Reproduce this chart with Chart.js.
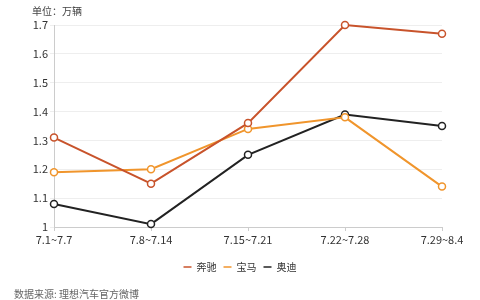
<!DOCTYPE html>
<html><head><meta charset="utf-8">
<script src="https://cdn.jsdelivr.net/npm/chart.js@4/dist/chart.umd.min.js"></script>
<style>html,body{margin:0;padding:0;background:#fff}#wrap{width:480px;height:300px}</style>
</head><body><div id="wrap"><canvas id="c" width="480" height="300"></canvas></div>
<script>
const categories = ['7.1~7.7','7.8~7.14','7.15~7.21','7.22~7.28','7.29~8.4'];
const benz = [1.31, 1.15, 1.36, 1.70, 1.67];
const bmw  = [1.19, 1.20, 1.34, 1.38, 1.14];
const audi = [1.08, 1.01, 1.25, 1.39, 1.35];
const unitLabel = '单位：万辆';
const sourceLabel = '数据来源: 理想汽车官方微博';
const FONT = '"Noto Sans CJK SC","Noto Sans",sans-serif';

function ds(label, data, color){
  return {label, data, borderColor: color, backgroundColor: color, borderWidth: 2,
    pointRadius: 3.5, pointBorderWidth: 1.5, pointBackgroundColor: '#fff', pointBorderColor: color,
    tension: 0, fill: false, clip: false};
}
const textPlugin = {
  id: 'texts',
  afterDraw(chart){
    const ctx = chart.ctx;
    ctx.save();
    ctx.fillStyle = '#444';
    ctx.font = '10px ' + FONT;
    ctx.textBaseline = 'middle';
    ctx.textAlign = 'left';
    ctx.fillText(unitLabel, 32, 11);
    ctx.fillStyle = '#666';
    ctx.fillText(sourceLabel, 14, 294);
    ctx.restore();
  }
};
new Chart(document.getElementById('c'), {
  type: 'line',
  data: {labels: categories, datasets: [ds('奔驰', benz, '#c8532b'), ds('宝马', bmw, '#f0952c'), ds('奥迪', audi, '#222222')]},
  options: {
    responsive: false, animation: false,
    layout: {padding: {top: 25, right: 0, bottom: 18, left: 0}},
    plugins: {
      legend: {position: 'bottom', labels: {usePointStyle: true, pointStyle: 'line', pointStyleWidth: 8, boxHeight: 8,
        color: '#333', font: {family: FONT, size: 10}, padding: 7}},
      tooltip: {enabled: false}
    },
    scales: {
      x: {offset: false, grid: {drawOnChartArea: false, drawTicks: true, tickLength: 4, color: '#ccc'},
        border: {color: '#ccc'},
        afterFit(s){ s.height = 28; },
        ticks: {color: '#333', font: {family: FONT, size: 11}, padding: 2, maxRotation: 0, autoSkip: false}},
      y: {min: 1, max: 1.7, grid: {color: '#eeeeee', tickLength: 4, drawTicks: true},
        border: {color: '#ccc'},
        afterFit(s){ s.width = 54; },
        ticks: {stepSize: 0.1, color: '#333', font: {family: FONT, size: 11}, padding: 2,
          callback: v => Math.round(v*10)/10 + ''}},
      yr: {position: 'right', display: true, grid: {display: false}, border: {display: false},
        ticks: {display: false}, afterFit(s){ s.width = 38; }}
    }
  },
  plugins: [textPlugin]
});
</script></body></html>
